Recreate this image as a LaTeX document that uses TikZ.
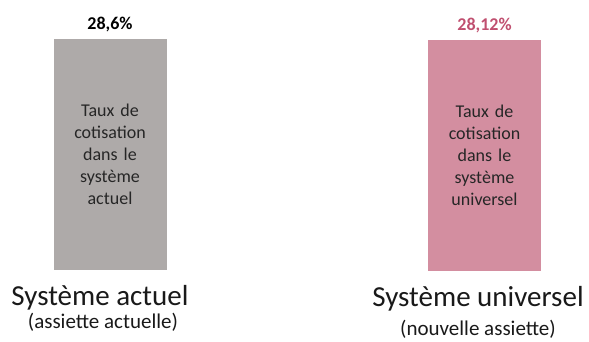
\documentclass[tikz,border=0pt]{standalone}
\usepackage{fontspec}
\setmainfont{Carlito}
\usetikzlibrary{positioning}
\definecolor{barGrey}{RGB}{174,170,169}
\definecolor{barPink}{RGB}{211,142,160}
\definecolor{valPink}{RGB}{192,80,112}
\tikzset{rate bar/.style={fill=#1,inner sep=0pt,minimum width=113pt,minimum height=231pt,align=center,text width=100pt,text=black!85,font=\fontsize{18}{22}\selectfont},
  rate value/.style={font=\fontsize{18}{22}\selectfont\bfseries,text=#1,inner sep=0pt},
  sys title/.style={font=\fontsize{29}{34}\selectfont,text=black!90,anchor=base,inner sep=0pt},
  sys base/.style={font=\fontsize{21}{25}\selectfont,text=black!90,anchor=base,inner sep=0pt}}

\begin{document}
\begin{tikzpicture}[x=1pt,y=1pt]
\useasboundingbox (0,0) rectangle (589,341);
\node[rate bar=barGrey] (actuel) at (110,186.5) {Taux de\\cotisation\\dans le\\système\\actuel};
\node[rate bar=barPink] (univ) at (484.5,185.5) {Taux de\\cotisation\\dans le\\système\\universel};
\node[rate value=black] (vA) [above=9pt of actuel.north,anchor=base] {28,6\%};
\node[rate value=valPink] (vU) [above=9pt of univ.north,anchor=base] {28,12\%};
\node[sys title] (tA) at (100,36) {Système actuel};
\node[sys base] (bA) at (103,13) {(assiette actuelle)};
\node[sys title] (tU) at (478,35) {Système universel};
\node[sys base] (bU) at (478,5.5) {(nouvelle assiette)};
\end{tikzpicture}
\end{document}
